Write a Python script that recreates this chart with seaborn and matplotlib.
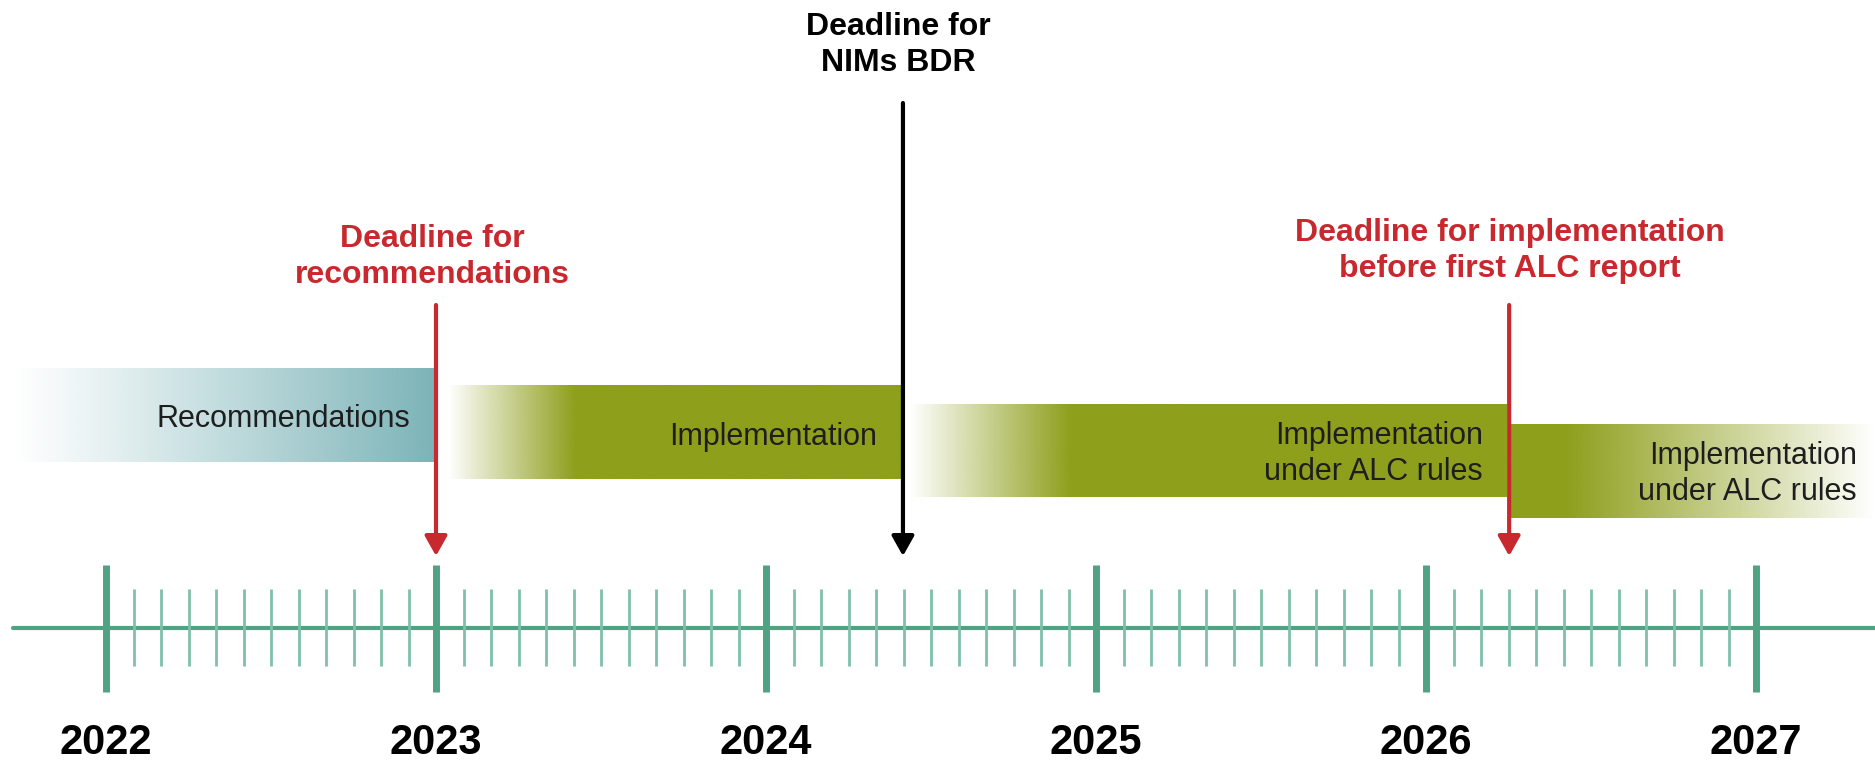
import numpy as np
import matplotlib
matplotlib.use("Agg")
import matplotlib.pyplot as plt
import seaborn as sns
from matplotlib.colors import to_rgb

# ---------------- data ----------------
years = [2022, 2023, 2024, 2025, 2026, 2027]
year_labels = ["2022", "2023", "2024", "2025", "2026", "2027"]

phase_labels = ["Recommendations", "Implementation",
                "Implementation\nunder ALC rules", "Implementation\nunder ALC rules"]
phase_start = [2021.715, 2023.036, 2024.436, 2026.252]
phase_end = [2023.0, 2024.415, 2026.245, 2027.361]
phase_label_x = [2022.921, 2024.336, 2026.173, 2027.306]

deadline_x = [2023.0, 2024.415, 2026.252]
deadline_labels = ["Deadline for\nrecommendations", "Deadline for\nNIMs BDR",
                   "Deadline for implementation\nbefore first ALC report"]
deadline_label_x = [2022.99, 2024.40, 2026.255]

# ---------------- style ----------------
sns.set_theme(style="white")
plt.rcParams["font.family"] = ["Liberation Sans", "DejaVu Sans"]

W, H, DPI = 18.75, 7.61, 100
PX_PER_YEAR = 330.0
X0_PX = 106.0
xmin = years[0] - X0_PX / PX_PER_YEAR
xmax = years[0] + (1875 - X0_PX) / PX_PER_YEAR

TEAL = "#7BB3B7"
OLIVE = "#8E9F1C"
AXIS_GREEN = "#4FA383"
MINOR_GREEN = "#80C0A9"
RED = "#C8292E"
TXT = "#1E1E1E"

bar_top = [368, 385, 404, 424]
bar_bot = [462, 479, 497, 518]
bar_colors = [TEAL, OLIVE, OLIVE, OLIVE]
bar_fade = [("ramp", None), ("in", 127 / PX_PER_YEAR), ("in", 160 / PX_PER_YEAR),
            ("out", 58 / PX_PER_YEAR)]
phase_label_y = [419, 437, 454, 474]

deadline_colors = [RED, "black", RED]
deadline_top = [305, 103, 305]
deadline_tip = 556
deadline_label_y = [257, 45, 251]

axis_y = 628
major_half = (565, 692)
minor_half = (589, 666)
year_label_y = 743

fig = plt.figure(figsize=(W, H), dpi=DPI)
ax = fig.add_axes([0, 0, 1, 1])
ax.set_xlim(xmin, xmax)
ax.set_ylim(761, 0)
ax.axis("off")

# ---------------- phase bars with gradients ----------------
for i, lab in enumerate(phase_labels):
    x0, x1 = phase_start[i], phase_end[i]
    xs = np.linspace(x0, x1, 600)
    kind, L = bar_fade[i]
    if kind == "ramp":
        t = (xs - x0) / (x1 - x0)
        alpha = t ** 1.1
    elif kind == "in":
        alpha = np.clip((xs - x0) / L, 0, 1)
    else:
        xs_solid = x0 + L
        alpha = np.clip(1 - (xs - xs_solid) / (x1 - xs_solid), 0, 1)
    rgb = to_rgb(bar_colors[i])
    img = np.zeros((1, len(xs), 4))
    img[..., 0], img[..., 1], img[..., 2] = rgb
    img[..., 3] = alpha
    ax.imshow(img, extent=(x0, x1, bar_bot[i], bar_top[i]), aspect="auto",
              interpolation="bilinear", zorder=1)
    ax.text(phase_label_x[i], phase_label_y[i], lab, ha="right", va="center",
            fontsize=22, color=TXT, linespacing=1.24, zorder=3)

# ---------------- timeline ----------------
sns.lineplot(x=[2021.718, xmax], y=[axis_y, axis_y], ax=ax, color=AXIS_GREEN,
             linewidth=3.0, zorder=2)
months = [y + m / 12 for y in years[:-1] for m in range(1, 12)]
ax.vlines(months, minor_half[0], minor_half[1], color=MINOR_GREEN, linewidth=2.0, zorder=2)
ax.vlines(years, major_half[0], major_half[1], color=AXIS_GREEN, linewidth=5.0, zorder=2)
for yv, yl in zip(years, year_labels):
    ax.text(yv, year_label_y, yl, ha="center", va="center", fontsize=30,
            fontweight="bold", color="black")

# ---------------- deadlines ----------------
for i, lab in enumerate(deadline_labels):
    ax.annotate("", xy=(deadline_x[i], deadline_tip), xytext=(deadline_x[i], deadline_top[i]),
                arrowprops=dict(arrowstyle="-|>,head_length=0.8,head_width=0.45",
                                mutation_scale=15, color=deadline_colors[i],
                                linewidth=3.0, shrinkA=0, shrinkB=0),
                zorder=4)
    ax.text(deadline_label_x[i], deadline_label_y[i], lab, ha="center", va="center",
            fontsize=23, fontweight="bold", color=deadline_colors[i], linespacing=1.28)

fig.savefig("out.png", dpi=DPI)
